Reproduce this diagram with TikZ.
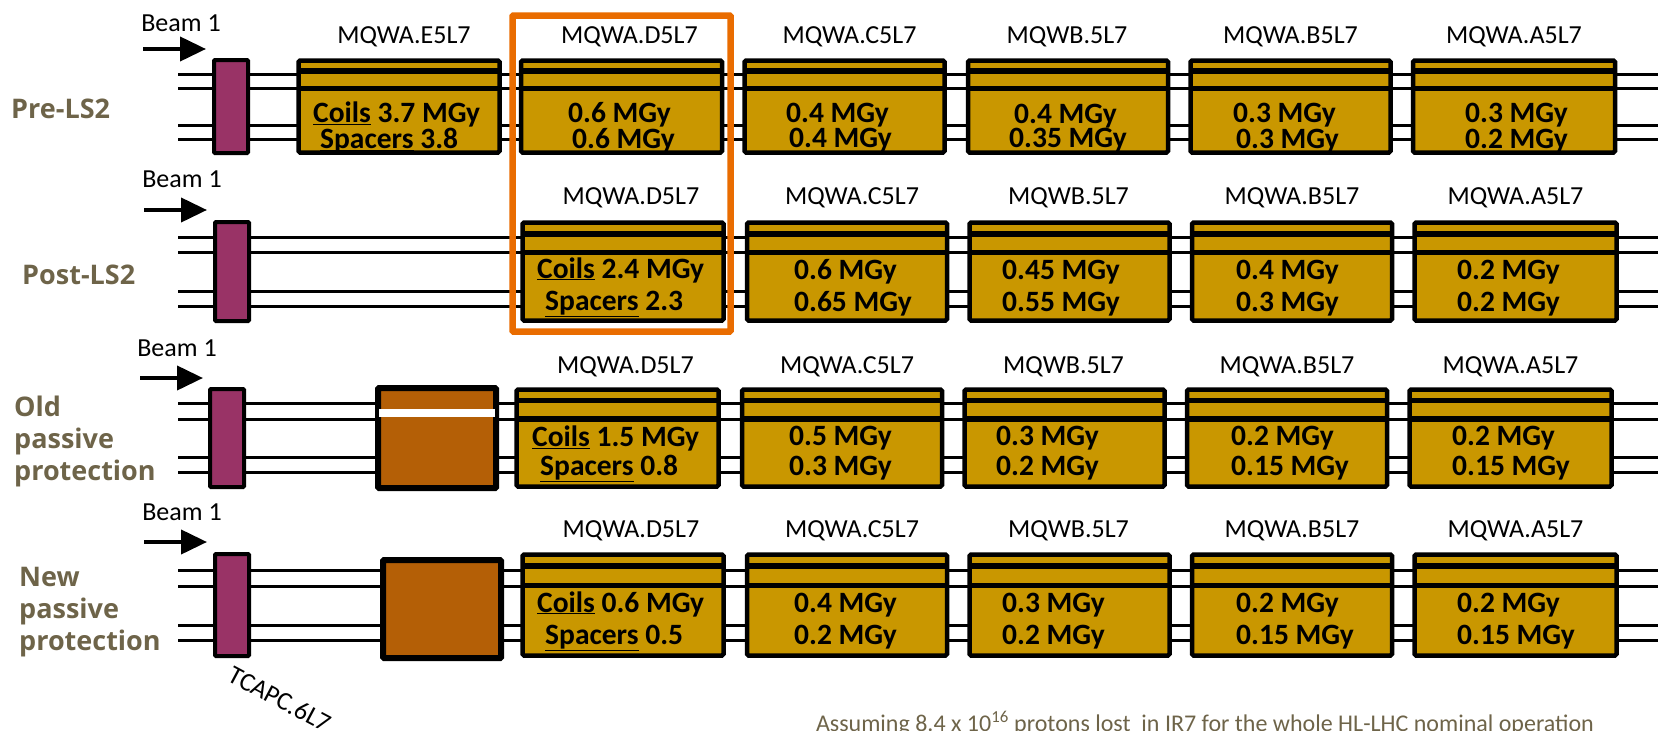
\documentclass[tikz,border=0pt]{standalone}
\usepackage{fontspec}
\setmainfont{Carlito}
\newfontfamily\rowfont{Open Sans}
\usetikzlibrary{arrows.meta, positioning, calc}
\definecolor{cgold}{HTML}{C99700}
\definecolor{cbrown}{HTML}{B45F06}
\definecolor{cplum}{HTML}{993366}
\definecolor{cframe}{HTML}{E96C00}
\definecolor{cnote}{HTML}{6E6449}
\tikzset{
  magnet/.style={draw=black, fill=cgold, line width=4.5pt, rounded corners=1.5pt, minimum width=#1,
    path picture={
      \draw[line width=5.5pt] ($(path picture bounding box.north west)!.115!(path picture bounding box.south west)$) -- ($(path picture bounding box.north east)!.115!(path picture bounding box.south east)$);
      \draw[line width=5.5pt] ($(path picture bounding box.north west)!.305!(path picture bounding box.south west)$) -- ($(path picture bounding box.north east)!.305!(path picture bounding box.south east)$);
    }},
  magnet/.default=200pt,
  tcapc/.style={draw=black, fill=cplum, line width=4pt, rounded corners=1pt, minimum width=34pt},
  absorber/.style={draw=black, fill=cbrown, line width=6pt, rounded corners=1pt, minimum width=118pt},
  beamline/.style={line width=3pt},
  beamarrow/.style={-{Triangle[length=26pt, width=24pt]}, line width=4pt},
  tag/.style={font=\fontsize{26}{26}\selectfont, inner sep=0pt},
  dose/.style={font=\bfseries\fontsize{29.5}{#1}\selectfont, align=left, anchor=west, inner sep=0pt},
  rowname/.style={font=\rowfont\bfseries\fontsize{27}{#1}\selectfont, text=cnote, align=left, anchor=west, inner sep=0pt},
  note/.style={font=\fontsize{24}{24}\selectfont, text=cnote, inner sep=0pt},
}
\begin{document}
\begin{tikzpicture}[x=1pt, y=-1pt]
  \useasboundingbox (0,0) rectangle (1658,731);
  % beam lines
  \foreach \lname/\ly in {a/74, b/88, c/125, d/139, e/237, f/252, g/291, h/306, i/403, j/419, k/457, l/472, m/570, n/586, o/625, p/640} {
    \coordinate (in\lname) at (178,\ly);
    \coordinate (out\lname) at (1658,\ly);
    \draw[beamline] (in\lname) -- (out\lname);
  }

  % pre-LS2
  \node[rowname=30pt] (prename) at (11,109) {Pre-LS2};
  \node[tag] (prebeam) at (181,23) {Beam 1};
  \coordinate (prearrowa) at (143,49);
  \coordinate (prearrowb) at (206,49);
  \draw[beamarrow] (prearrowa) -- (prearrowb);
  \node[tcapc, minimum height=93pt] (pretc) at (231,106.5) {};
  \node[magnet=201pt, minimum height=92pt] (preE) at (399,106.5) {};
  \node[magnet=201pt, minimum height=92pt, right=17pt of preE] (preD) {};
  \node[magnet, minimum height=92pt, right=18pt of preD] (preC) {};
  \node[magnet, minimum height=92pt, right=19pt of preC] (preW) {};
  \node[magnet, minimum height=92pt, right=18pt of preW] (preB) {};
  \node[magnet=202pt, minimum height=92pt, right=18pt of preB] (preA) {};
  \node[tag, above=11pt of preE, xshift=5pt] (preEtag) {MQWA.E5L7};
  \node[tag, above=11pt of preD, xshift=8pt] (preDtag) {MQWA.D5L7};
  \node[tag, above=11pt of preC, xshift=5pt] (preCtag) {MQWA.C5L7};
  \node[tag, above=11pt of preW, xshift=-1pt] (preWtag) {MQWB.5L7};
  \node[tag, above=11pt of preB] (preBtag) {MQWA.B5L7};
  \node[tag, above=11pt of preA] (preAtag) {MQWA.A5L7};
  \node[dose=26pt] (preEval) at (313,126) {\underline{Coils} 3.7 MGy\\\hspace{7pt}\underline{\smash{Spacers}} 3.8};
  \node[dose=26pt] (preDval) at (568,128) {0.6 MGy\\\hspace{4pt}0.6 MGy};
  \node[dose=25pt] (preCval) at (786,128) {0.4 MGy\\\hspace{3pt}0.4 MGy};
  \node[dose=24pt] (preWval) at (1009,128) {\hspace{5pt}0.4 MGy\\0.35 MGy};
  \node[dose=26pt] (preBval) at (1233,128) {0.3 MGy\\\hspace{3pt}0.3 MGy};
  \node[dose=26pt] (preAval) at (1465,128) {0.3 MGy\\0.2 MGy};

  % post-LS2
  \node[rowname=30pt] (postname) at (22,275) {Post-LS2};
  \node[tag] (postbeam) at (182,179) {Beam 1};
  \coordinate (postarrowa) at (144,210);
  \coordinate (postarrowb) at (207,210);
  \draw[beamarrow] (postarrowa) -- (postarrowb);
  \node[tcapc, minimum height=99pt] (posttc) at (232,271.5) {};
  \node[magnet=201pt, minimum height=98pt] (postD) at (623,271.5) {};
  \node[magnet, minimum height=98pt, right=19pt of postD] (postC) {};
  \node[magnet, minimum height=98pt, right=18pt of postC] (postW) {};
  \node[magnet, minimum height=98pt, right=18pt of postW] (postB) {};
  \node[magnet=202pt, minimum height=98pt, right=18pt of postB] (postA) {};
  \node[tag, above=12pt of postD, xshift=8pt] (postDtag) {MQWA.D5L7};
  \node[tag, above=12pt of postC, xshift=5pt] (postCtag) {MQWA.C5L7};
  \node[tag, above=12pt of postW, xshift=-1pt] (postWtag) {MQWB.5L7};
  \node[tag, above=12pt of postB] (postBtag) {MQWA.B5L7};
  \node[tag, above=12pt of postA] (postAtag) {MQWA.A5L7};
  \node[dose=32pt] (postDval) at (537,287) {\underline{Coils} 2.4 MGy\\\hspace{8pt}\underline{Spacers} 2.3};
  \node[dose=32pt] (postCval) at (794,288) {0.6 MGy\\0.65 MGy};
  \node[dose=32pt] (postWval) at (1002,288) {0.45 MGy\\0.55 MGy};
  \node[dose=32pt] (postBval) at (1236,288) {0.4 MGy\\0.3 MGy};
  \node[dose=32pt] (postAval) at (1457,288) {0.2 MGy\\0.2 MGy};

  % old passive protection
  \node[rowname=32pt] (oldname) at (14,441) {Old\\passive\\protection};
  \node[tag] (oldbeam) at (177,348) {Beam 1};
  \coordinate (oldarrowa) at (140,378);
  \coordinate (oldarrowb) at (203,378);
  \draw[beamarrow] (oldarrowa) -- (oldarrowb);
  \node[tcapc, minimum height=98pt] (oldtc) at (227,438) {};
  \node[absorber, minimum height=100pt] (oldabs) at (437,438) {};
  \node[fill=white, inner sep=0pt, minimum width=116pt, minimum height=8pt] (oldgap) at (437,413) {};
  \node[magnet=202pt, minimum height=97pt] (oldD) at (617.5,438) {};
  \node[magnet, minimum height=97pt, right=19pt of oldD] (oldC) {};
  \node[magnet, minimum height=97pt, right=18pt of oldC] (oldW) {};
  \node[magnet, minimum height=97pt, right=18pt of oldW] (oldB) {};
  \node[magnet=202pt, minimum height=97pt, right=18pt of oldB] (oldA) {};
  \node[tag, above=10pt of oldD, xshift=8pt] (oldDtag) {MQWA.D5L7};
  \node[tag, above=10pt of oldC, xshift=5pt] (oldCtag) {MQWA.C5L7};
  \node[tag, above=10pt of oldW, xshift=-1pt] (oldWtag) {MQWB.5L7};
  \node[tag, above=10pt of oldB] (oldBtag) {MQWA.B5L7};
  \node[tag, above=10pt of oldA] (oldAtag) {MQWA.A5L7};
  \node[dose=29pt] (oldDval) at (532,454) {\underline{Coils} 1.5 MGy\\\hspace{8pt}\underline{Spacers} 0.8};
  \node[dose=30pt] (oldCval) at (789,453) {0.5 MGy\\0.3 MGy};
  \node[dose=30pt] (oldWval) at (996,453) {0.3 MGy\\0.2 MGy};
  \node[dose=30pt] (oldBval) at (1231,453) {0.2 MGy\\0.15 MGy};
  \node[dose=30pt] (oldAval) at (1452,453) {0.2 MGy\\0.15 MGy};

  % new passive protection
  \node[rowname=32pt] (newname) at (19,612) {New\\passive\\protection};
  \node[tag] (newbeam) at (182,512) {Beam 1};
  \coordinate (newarrowa) at (144,542);
  \coordinate (newarrowb) at (207,542);
  \draw[beamarrow] (newarrowa) -- (newarrowb);
  \node[tcapc, minimum height=102pt] (newtc) at (232,605) {};
  \node[absorber, minimum height=98pt] (newabs) at (442,609) {};
  \node[magnet=201pt, minimum height=101pt] (newD) at (623,605) {};
  \node[magnet, minimum height=101pt, right=19pt of newD] (newC) {};
  \node[magnet, minimum height=101pt, right=18pt of newC] (newW) {};
  \node[magnet, minimum height=101pt, right=18pt of newW] (newB) {};
  \node[magnet=202pt, minimum height=101pt, right=18pt of newB] (newA) {};
  \node[tag, above=11pt of newD, xshift=8pt] (newDtag) {MQWA.D5L7};
  \node[tag, above=11pt of newC, xshift=5pt] (newCtag) {MQWA.C5L7};
  \node[tag, above=11pt of newW, xshift=-1pt] (newWtag) {MQWB.5L7};
  \node[tag, above=11pt of newB] (newBtag) {MQWA.B5L7};
  \node[tag, above=11pt of newA] (newAtag) {MQWA.A5L7};
  \node[dose=32pt] (newDval) at (537,621) {\underline{Coils} 0.6 MGy\\\hspace{8pt}\underline{Spacers} 0.5};
  \node[dose=32pt] (newCval) at (794,621) {0.4 MGy\\0.2 MGy};
  \node[dose=32pt] (newWval) at (1002,621) {0.3 MGy\\0.2 MGy};
  \node[dose=32pt] (newBval) at (1236,621) {0.2 MGy\\0.15 MGy};
  \node[dose=32pt] (newAval) at (1457,621) {0.2 MGy\\0.15 MGy};

  \node[draw=cframe, line width=6.5pt, rounded corners=1pt, minimum width=218pt, minimum height=316pt] (frame) at (621.5,173.5) {};
  \node[tag, rotate=-28] (tcname) at (280,699) {TCAPC.6L7};
  \node[note] (assume) at (1205,723) {Assuming 8.4 x 10\textsuperscript{16} protons lost \ in IR7 for the whole HL-LHC nominal operation};
\end{tikzpicture}
\end{document}
